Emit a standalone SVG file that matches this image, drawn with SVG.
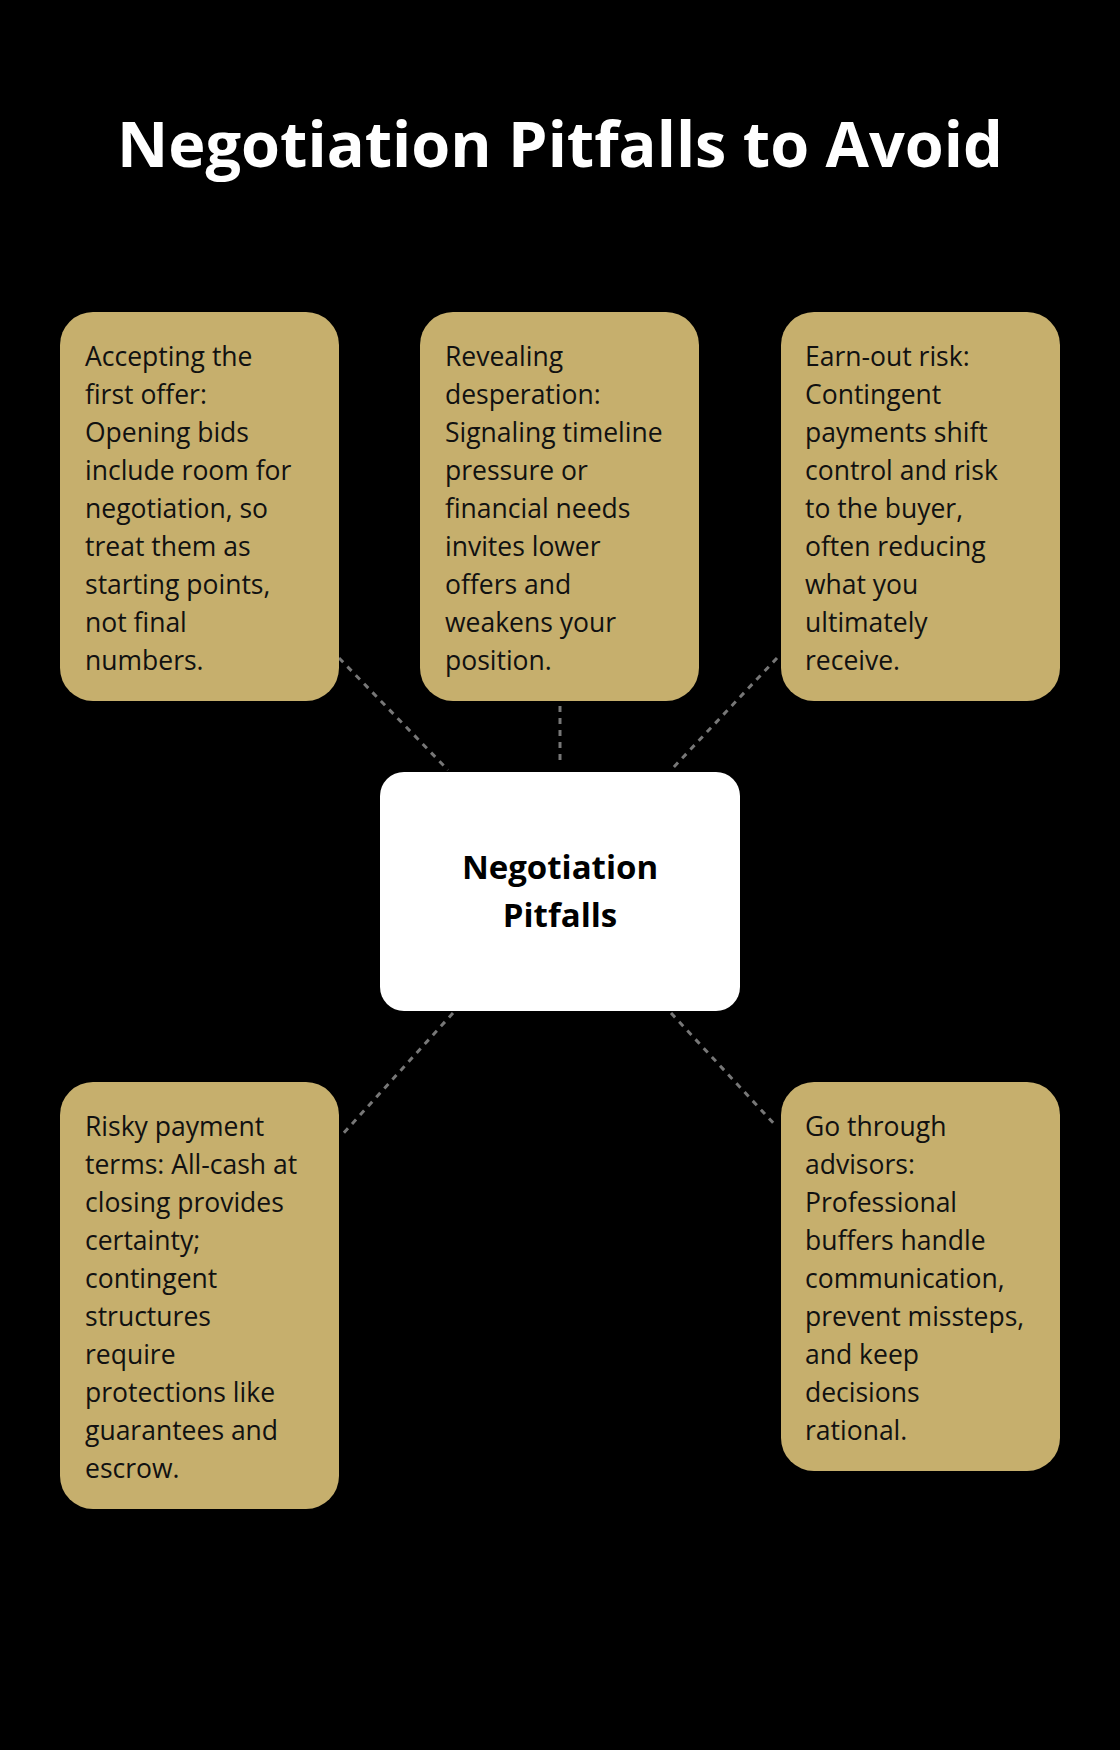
<svg xmlns="http://www.w3.org/2000/svg" width="1120" height="1750" viewBox="0 0 1120 1750">
<style>
.box{fill:#c6af6d}
.t{font-family:"Open Sans","Noto Sans",sans-serif;font-size:26.5px;fill:#111}
.c{stroke:#777;stroke-width:3;stroke-dasharray:6 6;fill:none}
</style>
<rect width="1120" height="1750" fill="#000"/>
<text x="560" y="167" text-anchor="middle" font-family="'Open Sans','Noto Sans',sans-serif" font-weight="bold" font-size="63" fill="#fff">Negotiation Pitfalls to Avoid</text>
<g id="connectors">
<line class="c" x1="339" y1="658" x2="448" y2="770"/>
<line class="c" x1="560" y1="706" x2="560" y2="766"/>
<line class="c" x1="777" y1="658" x2="671" y2="770"/>
<line class="c" x1="453" y1="1013" x2="341" y2="1136"/>
<line class="c" x1="671" y1="1013" x2="777" y2="1127"/>
</g>
<g id="center">
<rect x="380" y="772" width="360" height="239" rx="24" fill="#fff"/>
<text x="560" y="879" text-anchor="middle" font-family="'Open Sans','Noto Sans',sans-serif" font-weight="bold" font-size="33" fill="#000">Negotiation</text>
<text x="560" y="927" text-anchor="middle" font-family="'Open Sans','Noto Sans',sans-serif" font-weight="bold" font-size="33" fill="#000">Pitfalls</text>
</g>
<g id="n1">
<rect class="box" x="60" y="312" width="279" height="389" rx="33"/>
<text class="t" x="85" y="366"><tspan x="85">Accepting the</tspan><tspan x="85" dy="38">first offer:</tspan><tspan x="85" dy="38">Opening bids</tspan><tspan x="85" dy="38">include room for</tspan><tspan x="85" dy="38">negotiation, so</tspan><tspan x="85" dy="38">treat them as</tspan><tspan x="85" dy="38">starting points,</tspan><tspan x="85" dy="38">not final</tspan><tspan x="85" dy="38">numbers.</tspan></text>
</g>
<g id="n2">
<rect class="box" x="420" y="312" width="279" height="389" rx="33"/>
<text class="t" x="445" y="366"><tspan x="445">Revealing</tspan><tspan x="445" dy="38">desperation:</tspan><tspan x="445" dy="38">Signaling timeline</tspan><tspan x="445" dy="38">pressure or</tspan><tspan x="445" dy="38">financial needs</tspan><tspan x="445" dy="38">invites lower</tspan><tspan x="445" dy="38">offers and</tspan><tspan x="445" dy="38">weakens your</tspan><tspan x="445" dy="38">position.</tspan></text>
</g>
<g id="n3">
<rect class="box" x="781" y="312" width="279" height="389" rx="33"/>
<text class="t" x="805" y="366"><tspan x="805">Earn-out risk:</tspan><tspan x="805" dy="38">Contingent</tspan><tspan x="805" dy="38">payments shift</tspan><tspan x="805" dy="38">control and risk</tspan><tspan x="805" dy="38">to the buyer,</tspan><tspan x="805" dy="38">often reducing</tspan><tspan x="805" dy="38">what you</tspan><tspan x="805" dy="38">ultimately</tspan><tspan x="805" dy="38">receive.</tspan></text>
</g>
<g id="n4">
<rect class="box" x="60" y="1082" width="279" height="427" rx="33"/>
<text class="t" x="85" y="1136"><tspan x="85">Risky payment</tspan><tspan x="85" dy="38">terms: All-cash at</tspan><tspan x="85" dy="38">closing provides</tspan><tspan x="85" dy="38">certainty;</tspan><tspan x="85" dy="38">contingent</tspan><tspan x="85" dy="38">structures</tspan><tspan x="85" dy="38">require</tspan><tspan x="85" dy="38">protections like</tspan><tspan x="85" dy="38">guarantees and</tspan><tspan x="85" dy="38">escrow.</tspan></text>
</g>
<g id="n5">
<rect class="box" x="781" y="1082" width="279" height="389" rx="33"/>
<text class="t" x="805" y="1136"><tspan x="805">Go through</tspan><tspan x="805" dy="38">advisors:</tspan><tspan x="805" dy="38">Professional</tspan><tspan x="805" dy="38">buffers handle</tspan><tspan x="805" dy="38">communication,</tspan><tspan x="805" dy="38">prevent missteps,</tspan><tspan x="805" dy="38">and keep</tspan><tspan x="805" dy="38">decisions</tspan><tspan x="805" dy="38">rational.</tspan></text>
</g>
</svg>
